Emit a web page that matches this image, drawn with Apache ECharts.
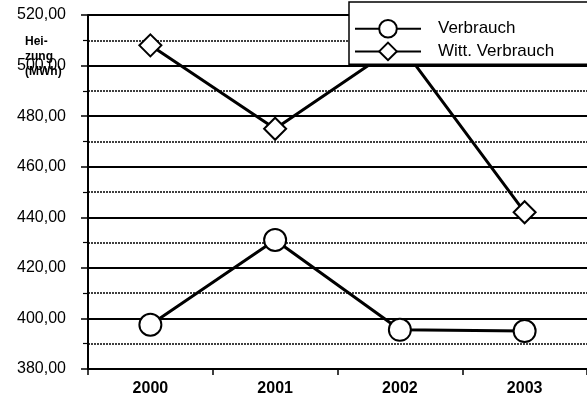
<!DOCTYPE html>
<html>
<head>
<meta charset="utf-8">
<script src="https://cdn.jsdelivr.net/npm/echarts@6/dist/echarts.min.js"></script>
<style>
html,body{margin:0;padding:0;background:#fff;}
#c{width:587px;height:403px;}
</style>
</head>
<body>
<div id="c"></div>
<script>
const categories = ['2000', '2001', '2002', '2003'];
const verbrauch = [397.5, 431, 395.5, 395];
const wittVerbrauch = [508, 475, 508.5, 442];
const seriesNames = ['Verbrauch', 'Witt. Verbrauch'];
const yAxisTitle = 'Hei-\nzung\n(MWh)';

const chart = echarts.init(document.getElementById('c'));
const font = 'Liberation Sans, Arial, sans-serif';
chart.setOption({
  animation: false,
  backgroundColor: '#fff',
  grid: { left: 88, top: 15, width: 503, bottom: 34, containLabel: false },
  legend: {
    left: 349, top: 2,
    orient: 'vertical',
    itemWidth: 66, itemHeight: 22, itemGap: 3,
    padding: [17, 60, 3, 5],
    backgroundColor: '#fff',
    borderColor: '#000', borderWidth: 1.5, borderRadius: 0,
    textStyle: { fontFamily: font, fontSize: 17, color: '#000', padding: [0, 0, 0, 12] },
    data: seriesNames,
    z: 10
  },
  xAxis: {
    type: 'category',
    data: categories,
    boundaryGap: true,
    axisLine: { lineStyle: { color: '#000', width: 2 } },
    axisTick: { show: true, length: 6, lineStyle: { color: '#000', width: 1.5 } },
    axisLabel: { fontFamily: font, fontSize: 16, fontWeight: 'bold', color: '#000', margin: 12 },
    splitLine: { show: false }
  },
  yAxis: {
    type: 'value',
    min: 380, max: 520, interval: 20,
    axisLine: { show: true, lineStyle: { color: '#000', width: 2 } },
    axisTick: { show: true, length: 7, lineStyle: { color: '#000', width: 1.5 } },
    minorTick: { show: true, splitNumber: 2, length: 5, lineStyle: { color: '#000', width: 1.2 } },
    axisLabel: {
      fontFamily: font, fontSize: 16, color: '#000', margin: 22,
      formatter: v => v.toFixed(2).replace('.', ',')
    },
    splitLine: { show: true, lineStyle: { color: '#000', width: 2 } },
    minorSplitLine: { show: true, lineStyle: { color: '#000', width: 1.5, type: [2, 1] } }
  },
  graphic: [{
    type: 'text', left: 25, top: 34, z: 20,
    style: { text: yAxisTitle, fontFamily: font, fontSize: 12, fontWeight: 'bold', fill: '#000',
             lineHeight: 15, align: 'center' }
  }],
  series: [
    {
      name: seriesNames[0], type: 'line', data: verbrauch,
      symbol: 'emptyCircle', symbolSize: 22,
      lineStyle: { color: '#000', width: 3 },
      itemStyle: { color: '#000', borderColor: '#000', borderWidth: 3 },
      z: 3
    },
    {
      name: seriesNames[1], type: 'line', data: wittVerbrauch,
      symbol: 'emptyDiamond', symbolSize: 22,
      lineStyle: { color: '#000', width: 3 },
      itemStyle: { color: '#000', borderColor: '#000', borderWidth: 3 },
      z: 3
    }
  ]
});
</script>
</body>
</html>
